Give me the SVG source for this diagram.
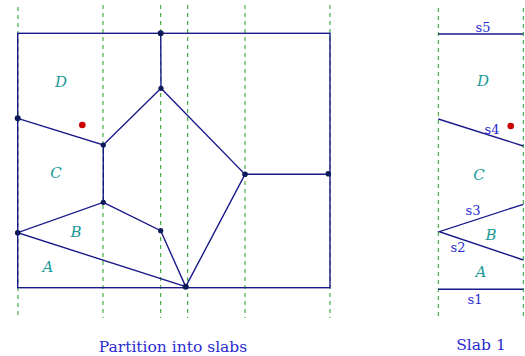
<svg xmlns="http://www.w3.org/2000/svg" width="525" height="356" viewBox="0 0 525 356">
<style>
.slab{stroke:#22a022;stroke-width:1;stroke-dasharray:4,4;fill:none}
.edge{stroke:#1a1a8a;stroke-width:1.4;fill:none}
.v{fill:#0d1a5a}
.reg{font-family:"DejaVu Serif",serif;font-style:italic;font-size:15px;fill:#1a9999;text-anchor:middle}
.seg{font-family:"DejaVu Serif",serif;font-size:13px;fill:#2a2ad0;text-anchor:middle}
.cap{font-family:"DejaVu Serif",serif;font-size:15.5px;fill:#2a2ad0;text-anchor:middle}
</style>
<rect width="525" height="356" fill="#fff"/>
<g id="slabs">
<line class="slab" x1="18" y1="7" x2="18" y2="318"/>
<line class="slab" x1="103" y1="5" x2="103" y2="318"/>
<line class="slab" x1="160.7" y1="5" x2="160.7" y2="318"/>
<line class="slab" x1="187.7" y1="5" x2="187.7" y2="318"/>
<line class="slab" x1="245" y1="5" x2="245" y2="318"/>
<line class="slab" x1="330" y1="5" x2="330" y2="318"/>
<line class="slab" x1="438.3" y1="8" x2="438.3" y2="318"/>
<line class="slab" x1="523.3" y1="8" x2="523.3" y2="318"/>
</g>
<g id="connectors">
<rect class="edge" x="17.7" y="33.3" width="312.3" height="254.4"/>
<polyline class="edge" points="160.7,33.3 161,88.3 103.3,145 17.7,118.3"/>
<polyline class="edge" points="103.3,145 103.3,202.3 17.7,232.7 185.7,286.7 160.7,230.7 103.3,202.3"/>
<polyline class="edge" points="161,88.3 245,174.3 185.7,286.7"/>
<line class="edge" x1="245" y1="174.3" x2="328.3" y2="174.3"/>
<line class="edge" x1="438.3" y1="34" x2="523.3" y2="34"/>
<line class="edge" x1="438.3" y1="119" x2="523.3" y2="146"/>
<polyline class="edge" points="523.3,204.3 439.3,231.7 523.3,260"/>
<line class="edge" x1="438.3" y1="289.3" x2="523.3" y2="289.3"/>
</g>
<g id="vertices">
<circle class="v" cx="160.7" cy="33.3" r="3"/>
<circle class="v" cx="161" cy="88.3" r="2.6"/>
<circle class="v" cx="17.7" cy="118.3" r="3"/>
<circle class="v" cx="103.3" cy="145" r="2.6"/>
<circle class="v" cx="103.3" cy="202.3" r="2.6"/>
<circle class="v" cx="17.7" cy="232.7" r="2.8"/>
<circle class="v" cx="160.7" cy="230.7" r="2.6"/>
<circle class="v" cx="185.7" cy="286.7" r="3"/>
<circle class="v" cx="245" cy="174.3" r="2.8"/>
<circle class="v" cx="328.3" cy="173.7" r="2.8"/>
</g>
<g id="query">
<circle cx="82.3" cy="125" r="3.3" fill="#cc0000"/>
<circle cx="510.7" cy="126" r="3.3" fill="#cc0000"/>
</g>
<g id="labels">
<text class="reg" x="61" y="87">D</text>
<text class="reg" x="56" y="178">C</text>
<text class="reg" x="76" y="237">B</text>
<text class="reg" x="48" y="272">A</text>
<text class="reg" x="483" y="86">D</text>
<text class="reg" x="479" y="180">C</text>
<text class="reg" x="491" y="240">B</text>
<text class="reg" x="481" y="277">A</text>
<text class="seg" x="483" y="32">s5</text>
<text class="seg" x="492" y="134">s4</text>
<text class="seg" x="473" y="215">s3</text>
<text class="seg" x="458" y="252">s2</text>
<text class="seg" x="475" y="304">s1</text>
<text class="cap" x="173" y="352">Partition into slabs</text>
<text class="cap" x="481" y="350">Slab 1</text>
</g>
</svg>
